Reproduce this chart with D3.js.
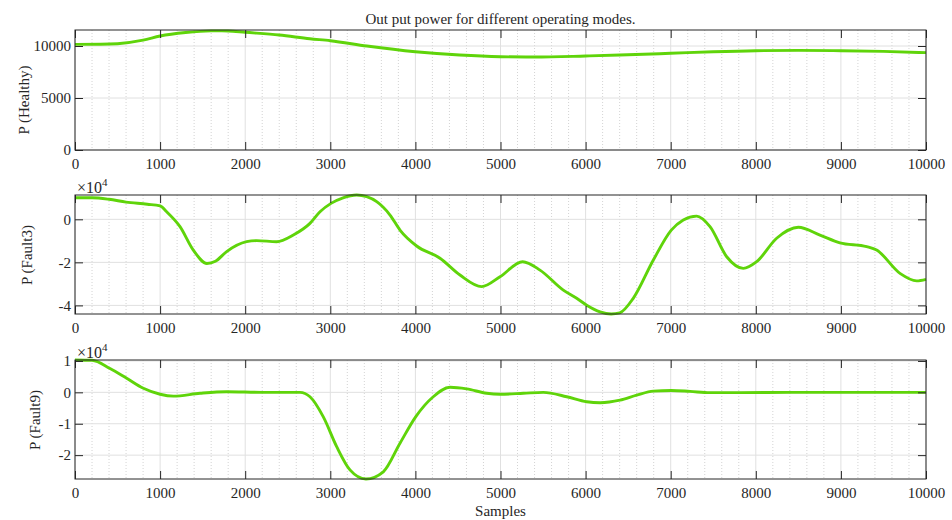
<!DOCTYPE html>
<html>
<head>
<meta charset="utf-8">
<script src="https://cdn.jsdelivr.net/npm/d3@7/dist/d3.min.js"></script>
<style>
  html, body { margin: 0; padding: 0; background: #ffffff; }
  svg { display: block; }
  text { font-family: "Liberation Serif", "Times New Roman", Times, serif; fill: #262626; }
</style>
</head>
<body>
<svg id="chart" width="952" height="520"></svg>
<script>
// ---------------- DATA ----------------
const titleText = "Out put power for different operating modes.";
const xLabelText = "Samples";
const xTicks = [0, 1000, 2000, 3000, 4000, 5000, 6000, 7000, 8000, 9000, 10000];
const xTickLabels = ["0","1000","2000","3000","4000","5000","6000","7000","8000","9000","10000"];
const xDomain = [0, 10000];

// Panel 1: P (Healthy), raw units
const healthyX = [0, 300, 500, 800, 1000, 1300, 1600, 1800, 2000, 2400, 2760, 3000, 3430, 4000, 4520, 5000, 5400, 6000, 6400, 7000, 7500, 8000, 8500, 9000, 9500, 10000];
const healthyY = [10160, 10170, 10220, 10560, 10960, 11300, 11460, 11450, 11320, 11060, 10700, 10510, 10000, 9450, 9130, 8970, 8940, 9040, 9130, 9300, 9450, 9550, 9580, 9550, 9480, 9360];
const healthyDomain = [0, 11540];
const healthyTicks = [0, 5000, 10000];
const healthyTickLabels = ["0", "5000", "10000"];

// Panel 2: P (Fault3), in units of 10^4
const fault3X = [0, 200, 400, 600, 850, 1000, 1077, 1234, 1390, 1550, 1650, 1782, 2017, 2135, 2370, 2566, 2761, 2879, 3008, 3150, 3310, 3428, 3545, 3702, 3819, 4015, 4289, 4524, 4779, 4994, 5260, 5464, 5738, 5895, 6013, 6170, 6300, 6400, 6560, 6796, 7007, 7148, 7305, 7462, 7658, 7853, 8010, 8245, 8500, 8754, 8989, 9303, 9420, 9694, 9890, 10000];
const fault3Y = [1.00, 1.00, 0.93, 0.80, 0.70, 0.62, 0.35, -0.34, -1.43, -2.05, -1.95, -1.50, -1.04, -0.99, -1.04, -0.73, -0.19, 0.35, 0.74, 1.00, 1.13, 1.05, 0.82, 0.20, -0.50, -1.24, -1.81, -2.59, -3.13, -2.67, -1.97, -2.36, -3.29, -3.67, -3.99, -4.30, -4.40, -4.35, -3.67, -1.89, -0.50, -0.03, 0.15, -0.34, -1.74, -2.28, -1.97, -0.88, -0.37, -0.73, -1.09, -1.27, -1.43, -2.51, -2.86, -2.79];
const fault3Domain = [-4.40, 1.13];
const fault3Ticks = [-4, -2, 0];
const fault3TickLabels = ["-4", "-2", "0"];

// Panel 3: P (Fault9), in units of 10^4
const fault9X = [0, 200, 411, 607, 803, 1000, 1155, 1469, 1782, 2200, 2644, 2761, 2918, 3075, 3231, 3419, 3623, 3819, 4003, 4210, 4407, 4603, 4838, 4994, 5268, 5503, 5778, 6013, 6170, 6404, 6600, 6796, 7007, 7227, 7462, 7740, 8500, 10000];
const fault9Y = [1.03, 1.02, 0.76, 0.45, 0.13, -0.06, -0.12, -0.03, 0.02, 0.00, 0.00, -0.14, -0.78, -1.73, -2.47, -2.76, -2.53, -1.62, -0.78, -0.14, 0.16, 0.11, -0.03, -0.06, -0.03, 0.00, -0.14, -0.30, -0.33, -0.25, -0.09, 0.04, 0.06, 0.03, -0.01, -0.01, 0.00, 0.00];
const fault9Domain = [-2.76, 1.03];
const fault9Ticks = [-2, -1, 0, 1];
const fault9TickLabels = ["-2", "-1", "0", "1"];

const yLabels = ["P (Healthy)", "P (Fault3)", "P (Fault9)"];
const exponentLabels = [null, "4", "4"];

// ---------------- LAYOUT / STYLE ----------------
const plotLeft = 75, plotRight = 926;
const panelBox = [
  { top: 30, bottom: 150, labelX: 29, labelY: 100 },
  { top: 195, bottom: 314, labelX: 32, labelY: 255 },
  { top: 360, bottom: 479, labelX: 40, labelY: 420 }
];
const lineColor = "#5fd40a";
const axisColor = "#262626";
const fontSize = 15;

const panels = [
  { xs: healthyX, ys: healthyY, domain: healthyDomain, ticks: healthyTicks, labels: healthyTickLabels },
  { xs: fault3X, ys: fault3Y, domain: fault3Domain, ticks: fault3Ticks, labels: fault3TickLabels },
  { xs: fault9X, ys: fault9Y, domain: fault9Domain, ticks: fault9Ticks, labels: fault9TickLabels }
];

const svg = d3.select("#chart");
const x = d3.scaleLinear().domain(xDomain).range([plotLeft, plotRight]);
const minorX = d3.range(xDomain[0], xDomain[1] + 1, 200).filter(v => v % 1000 !== 0);

panels.forEach((p, i) => {
  const box = panelBox[i];
  const y = d3.scaleLinear().domain(p.domain).range([box.bottom, box.top]);
  const g = svg.append("g");

  // minor vertical grid (dotted)
  g.append("g").selectAll("line").data(minorX).join("line")
    .attr("x1", d => x(d)).attr("x2", d => x(d))
    .attr("y1", box.top).attr("y2", box.bottom)
    .attr("stroke", "#c8c8c8").attr("stroke-width", 0.8)
    .attr("stroke-dasharray", "1,2");

  // major grid
  g.append("g").selectAll("line").data(xTicks).join("line")
    .attr("x1", d => x(d)).attr("x2", d => x(d))
    .attr("y1", box.top).attr("y2", box.bottom)
    .attr("stroke", "#e0e0e0").attr("stroke-width", 1);
  g.append("g").selectAll("line").data(p.ticks).join("line")
    .attr("x1", plotLeft).attr("x2", plotRight)
    .attr("y1", d => y(d)).attr("y2", d => y(d))
    .attr("stroke", "#e0e0e0").attr("stroke-width", 1);

  // data line
  const pts = p.xs.map((xv, k) => [xv, p.ys[k]]);
  const line = d3.line().x(d => x(d[0])).y(d => y(d[1])).curve(d3.curveMonotoneX);
  g.append("path").datum(pts)
    .attr("d", line)
    .attr("fill", "none")
    .attr("stroke", lineColor)
    .attr("stroke-width", 2.9)
    .attr("stroke-linejoin", "round");

  // axes (inward ticks)
  const tickLen = 8;
  const bottomAxis = d3.axisBottom(x).tickValues(xTicks)
    .tickFormat((d, k) => xTickLabels[k]).tickSizeInner(-tickLen).tickSizeOuter(0).tickPadding(8);
  const topAxis = d3.axisTop(x).tickValues(xTicks).tickFormat("").tickSizeInner(-tickLen).tickSizeOuter(0);
  const leftAxis = d3.axisLeft(y).tickValues(p.ticks)
    .tickFormat((d, k) => p.labels[k]).tickSizeInner(-tickLen).tickSizeOuter(0).tickPadding(4);
  const rightAxis = d3.axisRight(y).tickValues(p.ticks).tickFormat("").tickSizeInner(-tickLen).tickSizeOuter(0);

  const styleAxis = sel => {
    sel.select(".domain").remove();
    sel.selectAll(".tick line").attr("stroke", axisColor).attr("stroke-width", 1);
    sel.selectAll(".tick text").attr("fill", axisColor)
      .style("font-family", '"Liberation Serif", "Times New Roman", serif')
      .style("font-size", fontSize + "px");
  };

  g.append("g").attr("transform", `translate(0,${box.bottom})`).call(bottomAxis).call(styleAxis);
  g.append("g").attr("transform", `translate(0,${box.top})`).call(topAxis).call(styleAxis);
  g.append("g").attr("transform", `translate(${plotLeft},0)`).call(leftAxis).call(styleAxis);
  g.append("g").attr("transform", `translate(${plotRight},0)`).call(rightAxis).call(styleAxis);

  // box
  g.append("rect")
    .attr("x", plotLeft).attr("y", box.top)
    .attr("width", plotRight - plotLeft).attr("height", box.bottom - box.top)
    .attr("fill", "none").attr("stroke", axisColor).attr("stroke-width", 1);

  // y label
  g.append("text")
    .attr("transform", `translate(${box.labelX},${box.labelY}) rotate(-90)`)
    .attr("text-anchor", "middle")
    .style("font-size", fontSize + "px")
    .text(yLabels[i]);

  // exponent
  if (exponentLabels[i]) {
    const t = g.append("text")
      .attr("x", plotLeft + 2).attr("y", box.top - 2.5)
      .style("font-size", "16px");
    t.append("tspan").text("\u00d710");
    t.append("tspan").attr("dy", -7).style("font-size", "11px").text(exponentLabels[i]);
  }
});

// title
svg.append("text")
  .attr("x", (plotLeft + plotRight) / 2).attr("y", 24)
  .attr("text-anchor", "middle")
  .style("font-size", fontSize + "px")
  .text(titleText);

// x label
svg.append("text")
  .attr("x", (plotLeft + plotRight) / 2).attr("y", 516)
  .attr("text-anchor", "middle")
  .style("font-size", fontSize + "px")
  .text(xLabelText);
</script>
</body>
</html>
